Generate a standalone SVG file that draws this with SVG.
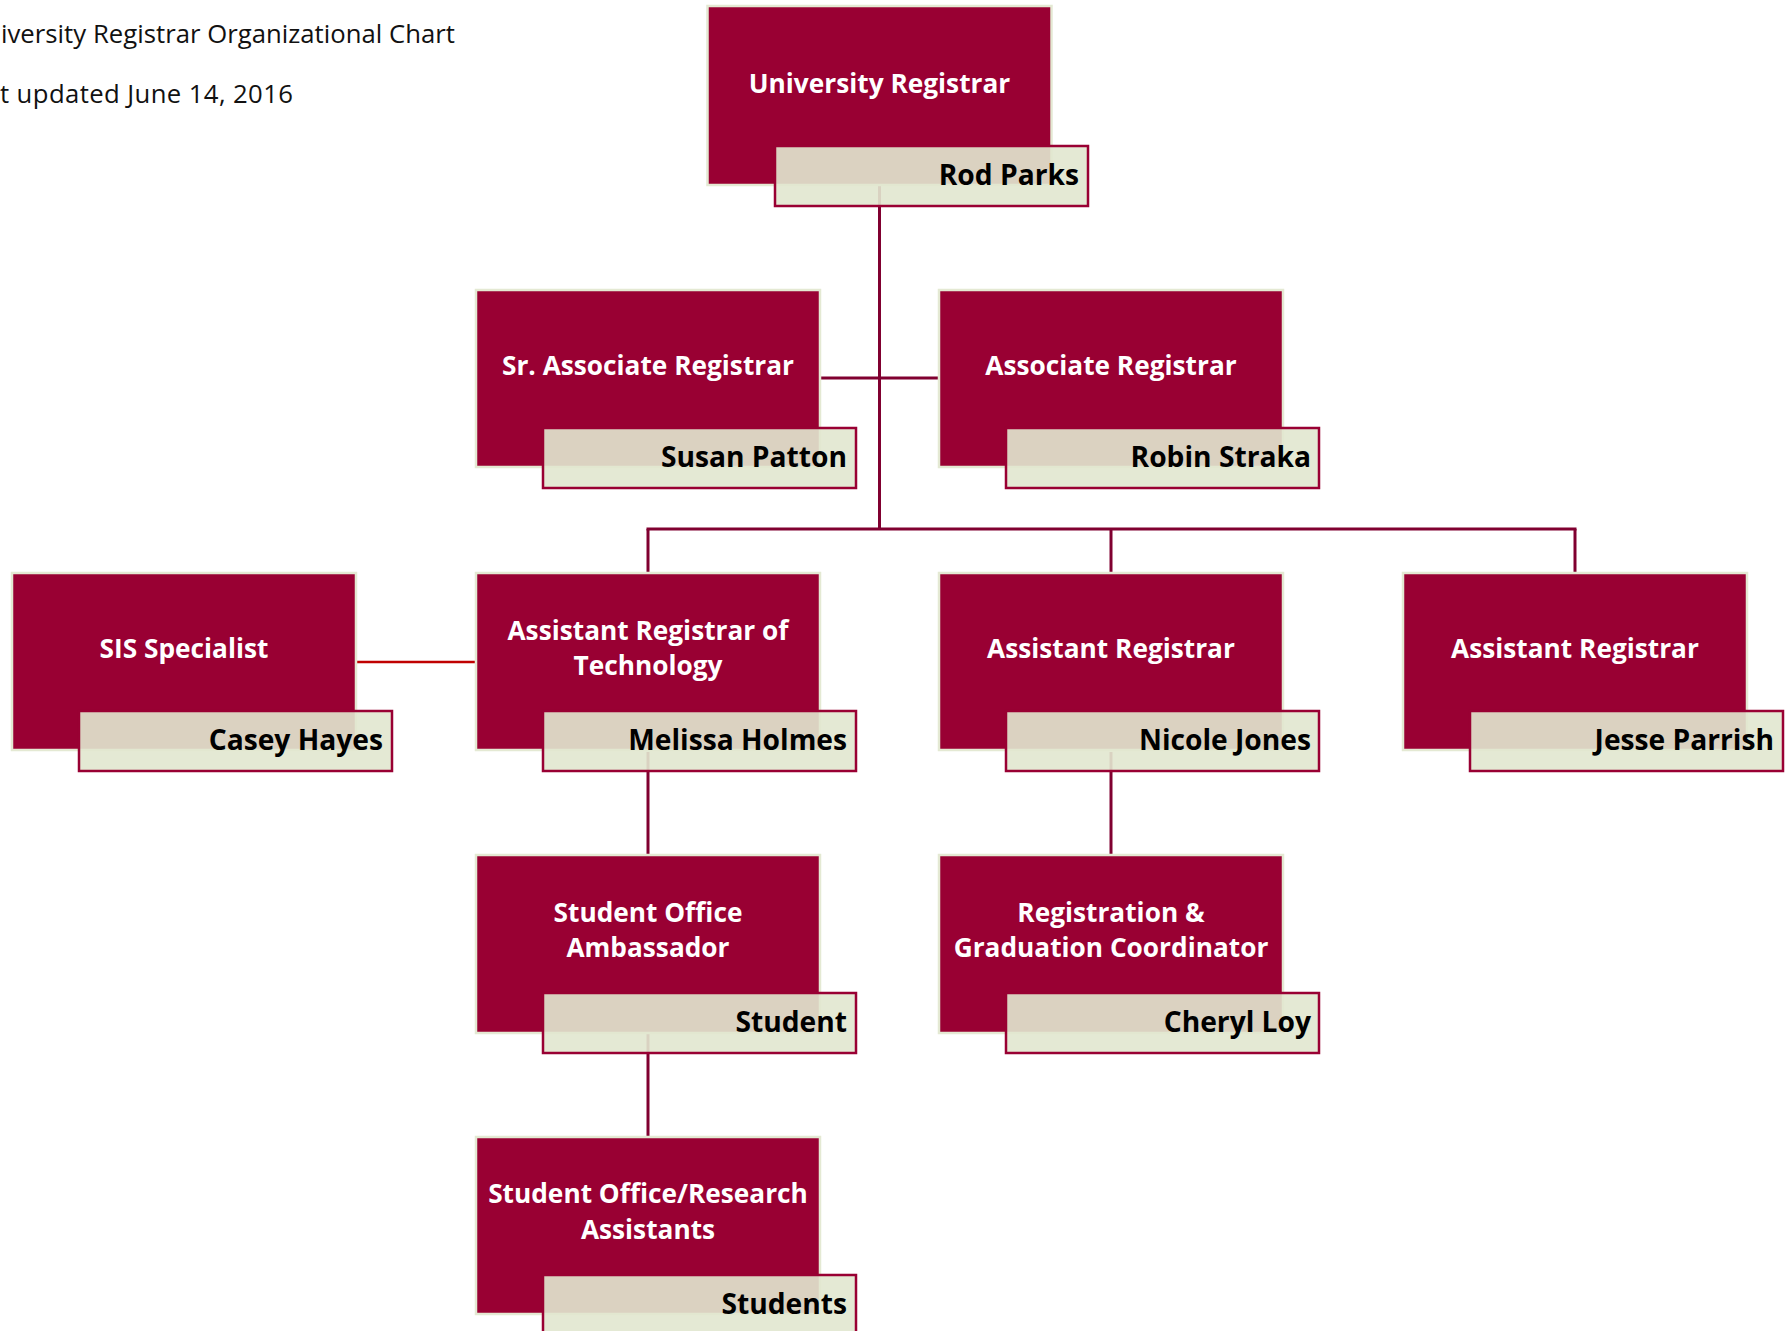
<svg xmlns="http://www.w3.org/2000/svg" width="1785" height="1331" viewBox="0 0 1785 1331">
<style>
.box{fill:#990033;stroke:#e4e9d3;stroke-width:2.5}
.nm{fill:#e1e7d0;fill-opacity:0.91;stroke:#990033;stroke-width:2.5}
.t{font-family:"Open Sans","Liberation Sans",sans-serif;font-weight:bold;font-size:26.25px;fill:#ffffff;text-anchor:middle}
.n{font-family:"Open Sans","Liberation Sans",sans-serif;font-weight:bold;font-size:28.2px;fill:#000000;text-anchor:end}
.hd{font-family:"Open Sans","Liberation Sans",sans-serif;font-size:25.7px;fill:#111111}
.c{stroke:#800030;stroke-width:3;fill:none}
.c2{stroke:#c00000;stroke-width:2.5;fill:none}
</style>
<rect width="1785" height="1331" fill="#ffffff"/>
<text class="hd" x="1" y="43" textLength="454">iversity Registrar Organizational Chart</text>
<text class="hd" x="0" y="103" textLength="293">t updated June 14, 2016</text>
<g id="connectors">
<line class="c" x1="879.5" y1="186" x2="879.5" y2="529"/>
<line class="c" x1="820" y1="378" x2="939" y2="378"/>
<line class="c" x1="646.5" y1="529" x2="1576.5" y2="529"/>
<line class="c" x1="648" y1="529" x2="648" y2="573"/>
<line class="c" x1="1111" y1="529" x2="1111" y2="573"/>
<line class="c" x1="1575" y1="529" x2="1575" y2="573"/>
<line class="c2" x1="356" y1="662" x2="476" y2="662"/>
<line class="c" x1="648" y1="752" x2="648" y2="855"/>
<line class="c" x1="1111" y1="752" x2="1111" y2="855"/>
<line class="c" x1="648" y1="1034" x2="648" y2="1137"/>
</g>
<g id="university-registrar">
<rect class="box" x="707.5" y="6" width="344" height="179"/>
<text class="t" x="879.5" y="93">University Registrar</text>
<rect class="nm" x="775" y="146" width="313" height="60"/>
<text class="n" x="1079" y="185">Rod Parks</text>
</g>
<g id="sr-associate-registrar">
<rect class="box" x="476" y="290" width="344" height="177"/>
<text class="t" x="648" y="375">Sr. Associate Registrar</text>
<rect class="nm" x="543" y="428" width="313" height="60"/>
<text class="n" x="847" y="467">Susan Patton</text>
</g>
<g id="associate-registrar">
<rect class="box" x="939" y="290" width="344" height="177"/>
<text class="t" x="1111" y="375">Associate Registrar</text>
<rect class="nm" x="1006" y="428" width="313" height="60"/>
<text class="n" x="1311" y="467">Robin Straka</text>
</g>
<g id="sis-specialist">
<rect class="box" x="12" y="573" width="344" height="177"/>
<text class="t" x="184" y="658">SIS Specialist</text>
<rect class="nm" x="79" y="711" width="313" height="60"/>
<text class="n" x="383" y="750">Casey Hayes</text>
</g>
<g id="assistant-registrar-technology">
<rect class="box" x="476" y="573" width="344" height="177"/>
<text class="t" x="648" y="640">Assistant Registrar of</text>
<text class="t" x="648" y="675">Technology</text>
<rect class="nm" x="543" y="711" width="313" height="60"/>
<text class="n" x="847" y="750">Melissa Holmes</text>
</g>
<g id="assistant-registrar-jones">
<rect class="box" x="939" y="573" width="344" height="177"/>
<text class="t" x="1111" y="658">Assistant Registrar</text>
<rect class="nm" x="1006" y="711" width="313" height="60"/>
<text class="n" x="1311" y="750">Nicole Jones</text>
</g>
<g id="assistant-registrar-parrish">
<rect class="box" x="1403" y="573" width="344" height="177"/>
<text class="t" x="1575" y="658">Assistant Registrar</text>
<rect class="nm" x="1470" y="711" width="313" height="60"/>
<text class="n" x="1774" y="750">Jesse Parrish</text>
</g>
<g id="student-office-ambassador">
<rect class="box" x="476" y="855" width="344" height="178"/>
<text class="t" x="648" y="922">Student Office</text>
<text class="t" x="648" y="957">Ambassador</text>
<rect class="nm" x="543" y="993" width="313" height="60"/>
<text class="n" x="847" y="1032">Student</text>
</g>
<g id="registration-graduation-coordinator">
<rect class="box" x="939" y="855" width="344" height="178"/>
<text class="t" x="1111" y="922">Registration &amp;</text>
<text class="t" x="1111" y="957">Graduation Coordinator</text>
<rect class="nm" x="1006" y="993" width="313" height="60"/>
<text class="n" x="1311" y="1032">Cheryl Loy</text>
</g>
<g id="student-office-research-assistants">
<rect class="box" x="476" y="1137" width="344" height="177"/>
<text class="t" x="648" y="1203">Student Office/Research</text>
<text class="t" x="648" y="1239">Assistants</text>
<rect class="nm" x="543" y="1275" width="313" height="60"/>
<text class="n" x="847" y="1314">Students</text>
</g>
</svg>
